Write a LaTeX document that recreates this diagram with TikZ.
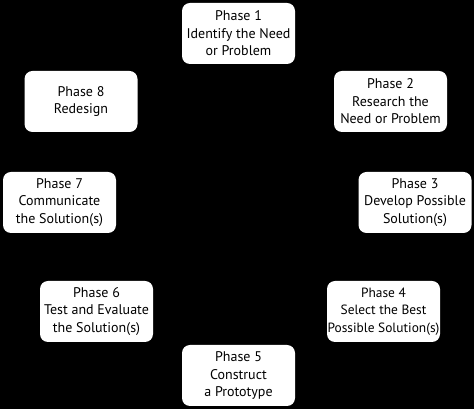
\documentclass[tikz,border=0pt]{standalone}
\usepackage{fontspec}
\setmainfont{PT Sans}

\begin{document}
\begin{tikzpicture}[
  x=1pt,y=1pt,
  phase/.style={draw=none,fill=white,rounded corners=8pt,
    minimum width=113pt,minimum height=61pt,inner sep=0pt,
    align=center,font=\fontsize{14}{17.5}\selectfont},
]
\fill[black] (0,0) rectangle (474,409);
\useasboundingbox (0,0) rectangle (474,409);
\node[phase] (phase-1) at (238.5,375.5) {Phase 1\\Identify the Need\\or Problem};
\node[phase] (phase-2) at (390.5,307.5) {Phase 2\\Research the\\Need or Problem};
\node[phase] (phase-3) at (415,206.5) {Phase 3\\Develop Possible\\Solution(s)};
\node[phase,font=\fontsize{13.4}{17.5}\selectfont] (phase-4) at (383.5,97.5) {Phase 4\\Select the Best\\Possible Solution(s)};
\node[phase] (phase-5) at (238.5,33.5) {Phase 5\\Construct\\a Prototype};
\node[phase] (phase-6) at (96.5,97.5) {Phase 6\\Test and Evaluate\\the Solution(s)};
\node[phase] (phase-7) at (59.5,206.5) {Phase 7\\Communicate\\the Solution(s)};
\node[phase] (phase-8) at (81,307.5) {Phase 8\\Redesign};
\end{tikzpicture}
\end{document}
